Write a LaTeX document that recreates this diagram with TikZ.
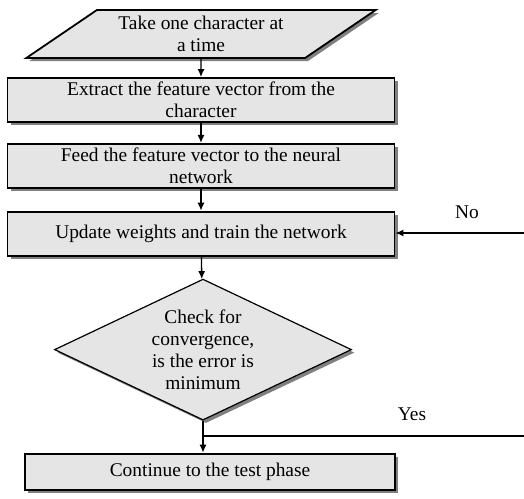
\documentclass[tikz,border=0pt]{standalone}
\usepackage{fontspec}
\setmainfont{Liberation Serif}
\usetikzlibrary{positioning,shapes.geometric,shadows,arrows.meta}

\tikzstyle{shade} = [drop shadow = {shadow xshift = 3pt, shadow yshift = -3pt,
	fill = gray, opacity = 1}]
\tikzstyle{process} = [rectangle, minimum width = 387pt, minimum height = 44pt,
	align = center, line width = 1.8pt, draw = black, fill = gray!20, shade]
\tikzstyle{io} = [trapezium, trapezium left angle = 36, trapezium right angle = 144,
	trapezium stretches = true, minimum width = 350pt, minimum height = 48pt,
	align = center, line width = 1.8pt, draw = black, fill = gray!20, shade]
\tikzstyle{decision} = [diamond, aspect = 2.1, minimum width = 297pt,
	minimum height = 141pt, inner sep = 0pt, align = center, line width = 1.2pt,
	draw = black, fill = gray!20, shade]
\tikzstyle{arrow} = [line width = 1.3pt, -{Latex[length = 8pt, width = 7pt]}]
\tikzstyle{line} = [line width = 1.3pt]

\begin{document}
\begin{tikzpicture}[x = 1pt, y = 1pt, font = \fontsize{19.4}{22}\selectfont]
\useasboundingbox (0, 0) rectangle (524, -498);

\node (take) [io] at (201, -34) {Take one character at\\a time};
\node (extract) [process] at (201, -100) {Extract the feature vector from the\\character};
\node (feed) [process, below = 20pt of extract] {Feed the feature vector to the neural\\network};
\node (update) [process, below = 22pt of feed] {Update weights and train the network};
\node (check) [decision, below = 22pt of update, xshift = 2pt]
	{Check for\\convergence,\\is the error is\\minimum};
\node (cont) [process, minimum width = 370pt, minimum height = 36pt,
	below = 32pt of check, xshift = 7pt] {Continue to the test phase};

\coordinate (noend) at (524, -233);
\coordinate (yesend) at (524, -436);
\node (nolabel) at (467, -212) {No};
\node (yeslabel) at (412, -414) {Yes};

\draw [arrow] (take) -- (extract);
\draw [arrow] (extract) -- (feed);
\draw [arrow] (feed) -- (update);
\draw [arrow] (update) -- (check);
\draw [arrow] (check.south) -- (check.south |- cont.north);
\draw [arrow] (noend) -- (noend -| update.east);
\draw [line] (yesend) -- (yesend -| check.south);
\end{tikzpicture}
\end{document}
